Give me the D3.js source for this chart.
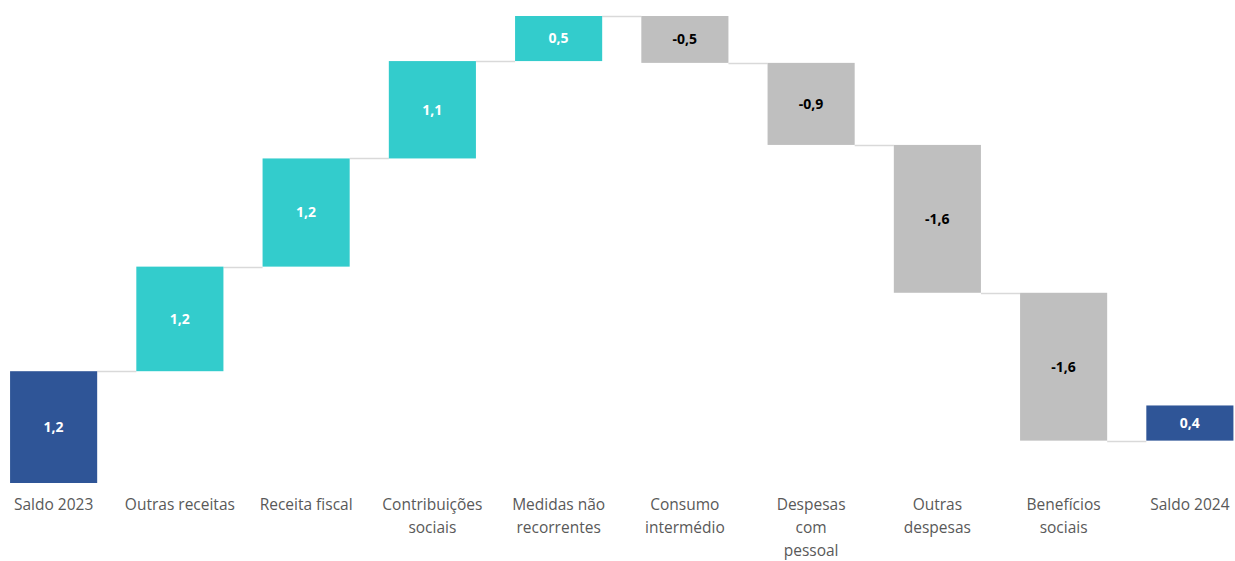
<!DOCTYPE html>
<html>
<head>
<meta charset="utf-8">
<script src="https://cdn.jsdelivr.net/npm/d3@7"></script>
<style>
  body { margin: 0; background: #fff; }
  svg { display: block; }
</style>
</head>
<body>
<svg id="chart" width="1235" height="561"></svg>
<script>
// categories (line breaks as in the original)
var categories = [
    ["Saldo 2023"],
    ["Outras receitas"],
    ["Receita fiscal"],
    ["Contribuições", "sociais"],
    ["Medidas não", "recorrentes"],
    ["Consumo", "intermédio"],
    ["Despesas", "com", "pessoal"],
    ["Outras", "despesas"],
    ["Benefícios", "sociais"],
    ["Saldo 2024"]
];
// values (labels show them rounded)
var values = [1.24, 1.16, 1.2, 1.08, 0.5, -0.52, -0.91, -1.64, -1.64, 0.39];
var kinds = ["total", "up", "up", "up", "up", "down", "down", "down", "down", "total"];

var colors = {total: "#2F5597", up: "#33CCCC", down: "#BFBFBF"};
var labelColors = {total: "#ffffff", up: "#ffffff", down: "#000000"};

var svg = d3.select("#chart");
var plotTop = 16, plotBottom = 483;

// running totals
var rows = [];
var run = 0;
values.forEach(function(v, i) {
    var start = run;
    var end = run + v;
    rows.push({i: i, cat: categories[i], v: v, kind: kinds[i], start: start, end: end});
    run = end;
});

var x = d3.scaleBand()
    .domain(d3.range(categories.length))
    .range([-9.5, 1253])
    .paddingInner(0.31)
    .paddingOuter(0.155);

var maxCum = d3.max(rows, function(d) { return Math.max(d.start, d.end); });
var y = d3.scaleLinear().domain([0, maxCum]).range([plotBottom, plotTop]);

var fmt = function(v) { return d3.format(".1f")(v).replace(".", ",").replace("\u2212", "-"); };

// connectors
svg.append("g").selectAll("line")
    .data(rows.slice(0, -1))
    .enter().append("line")
    .attr("x1", function(d) { return x(d.i) + x.bandwidth(); })
    .attr("x2", function(d) { return x(d.i + 1); })
    .attr("y1", function(d) { return Math.round(y(d.end)) + 0.5; })
    .attr("y2", function(d) { return Math.round(y(d.end)) + 0.5; })
    .attr("stroke", "#D9D9D9")
    .attr("stroke-width", 1.3);

var bars = svg.append("g").selectAll("g")
    .data(rows)
    .enter().append("g");

bars.append("rect")
    .attr("x", function(d) { return x(d.i); })
    .attr("width", x.bandwidth())
    .attr("y", function(d) { return y(Math.max(d.start, d.end)); })
    .attr("height", function(d) { return Math.abs(y(d.start) - y(d.end)); })
    .attr("fill", function(d) { return colors[d.kind]; });

bars.append("text")
    .attr("x", function(d) { return x(d.i) + x.bandwidth() / 2; })
    .attr("y", function(d) { return (y(d.start) + y(d.end)) / 2; })
    .attr("dy", "0.35em")
    .attr("text-anchor", "middle")
    .style("font-family", "'Open Sans', 'Noto Sans', sans-serif")
    .style("font-size", "14px")
    .style("font-weight", "bold")
    .attr("fill", function(d) { return labelColors[d.kind]; })
    .text(function(d) { return fmt(d.v); });

// category labels
var cats = svg.append("g").selectAll("text")
    .data(rows)
    .enter().append("text")
    .attr("x", function(d) { return x(d.i) + x.bandwidth() / 2; })
    .attr("y", 510)
    .attr("text-anchor", "middle")
    .style("font-family", "'Open Sans', 'Noto Sans', sans-serif")
    .style("font-size", "15.5px")
    .attr("fill", "#595959");

cats.selectAll("tspan")
    .data(function(d) { return d.cat; })
    .enter().append("tspan")
    .attr("x", function() { var p = d3.select(this.parentNode).datum(); return x(p.i) + x.bandwidth() / 2; })
    .attr("dy", function(d, j) { return j === 0 ? 0 : 23; })
    .text(function(d) { return d; });
</script>
</body>
</html>
